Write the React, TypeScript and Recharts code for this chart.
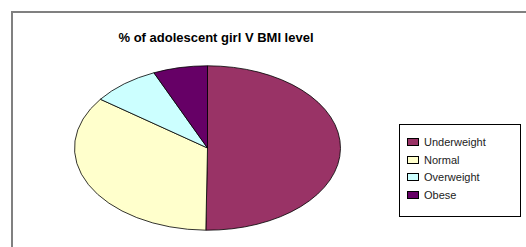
import React from "react";
import { PieChart, Pie, Cell, Legend } from "recharts";

const categories = ["Underweight", "Normal", "Overweight", "Obese"];
const shares = [50.2, 34.9, 8.3, 6.6];
const colors = ["#993366", "#FFFFCC", "#CCFFFF", "#660066"];

const data = categories.map((name, i) => ({ name, value: shares[i] }));

// flattened pie: a circle squashed vertically, like the old Excel look
const SQUASH = 0.618;

const EllipseSlice = (props: any) => {
  const { cx, cy, outerRadius, startAngle, endAngle, fill } = props;
  const rx = outerRadius;
  const ry = outerRadius * SQUASH;
  const rad = Math.PI / 180;
  const x1 = cx + rx * Math.cos(startAngle * rad);
  const y1 = cy - ry * Math.sin(startAngle * rad);
  const x2 = cx + rx * Math.cos(endAngle * rad);
  const y2 = cy - ry * Math.sin(endAngle * rad);
  const large = Math.abs(endAngle - startAngle) > 180 ? 1 : 0;
  const sweep = endAngle < startAngle ? 1 : 0;
  const d = `M${cx},${cy} L${x1},${y1} A${rx},${ry} 0 ${large} ${sweep} ${x2},${y2} Z`;
  return <path d={d} fill={fill} stroke="#000" strokeWidth={0.8} />;
};

const LegendBox = (props: any) => {
  // keep the data order, not alphabetical
  const payload = [...(props.payload || [])].sort(
    (a: any, b: any) => categories.indexOf(a.value) - categories.indexOf(b.value)
  );
  return (
    <div style={{ paddingTop: 8, paddingLeft: 7 }}>
      {payload.map((entry: any, i: number) => (
        <div
          key={i}
          style={{ display: "flex", alignItems: "center", height: 17.7 }}
        >
          <span
            style={{
              display: "inline-block",
              width: 10,
              height: 6,
              background: entry.color,
              border: "1px solid #000",
              marginRight: 5,
            }}
          />
          <span style={{ fontSize: 11, color: "#222" }}>{entry.value}</span>
        </div>
      ))}
    </div>
  );
};

export default function App() {
  return (
    <div
      style={{
        position: "absolute",
        left: 0,
        top: 0,
        width: 526,
        height: 247,
        overflow: "hidden",
        background: "#fff",
        fontFamily: "'Liberation Sans', Arial, sans-serif",
      }}
    >
      <div
        style={{
          position: "absolute",
          left: 11,
          top: 11,
          width: 530,
          height: 260,
          borderLeft: "2px solid #808080",
          borderTop: "2px solid #808080",
        }}
      />
      <div
        style={{
          position: "absolute",
          left: 116,
          top: 30,
          width: 200,
          textAlign: "center",
          fontSize: 13,
          fontWeight: "bold",
          color: "#000",
          whiteSpace: "nowrap",
        }}
      >
        % of adolescent girl V BMI level
      </div>
      <PieChart
        width={526}
        height={247}
        margin={{ top: 0, right: 0, bottom: 0, left: 0 }}
        style={{ position: "absolute", left: 0, top: 0 }}
      >
        <Pie
          data={data}
          dataKey="value"
          nameKey="name"
          cx={207.5}
          cy={148}
          outerRadius={133}
          startAngle={90}
          endAngle={-270}
          shape={EllipseSlice}
          isAnimationActive={false}
        >
          {data.map((d, i) => (
            <Cell key={d.name} fill={colors[i]} />
          ))}
        </Pie>
        <Legend
          layout="vertical"
          align="right"
          verticalAlign="middle"
          itemSorter={null as any}
          content={LegendBox}
          wrapperStyle={{
            position: "absolute",
            left: 399,
            top: 124,
            width: 122,
            height: 93,
            border: "1px solid #000",
            boxSizing: "border-box",
            background: "#fff",
          }}
        />
      </PieChart>
    </div>
  );
}
